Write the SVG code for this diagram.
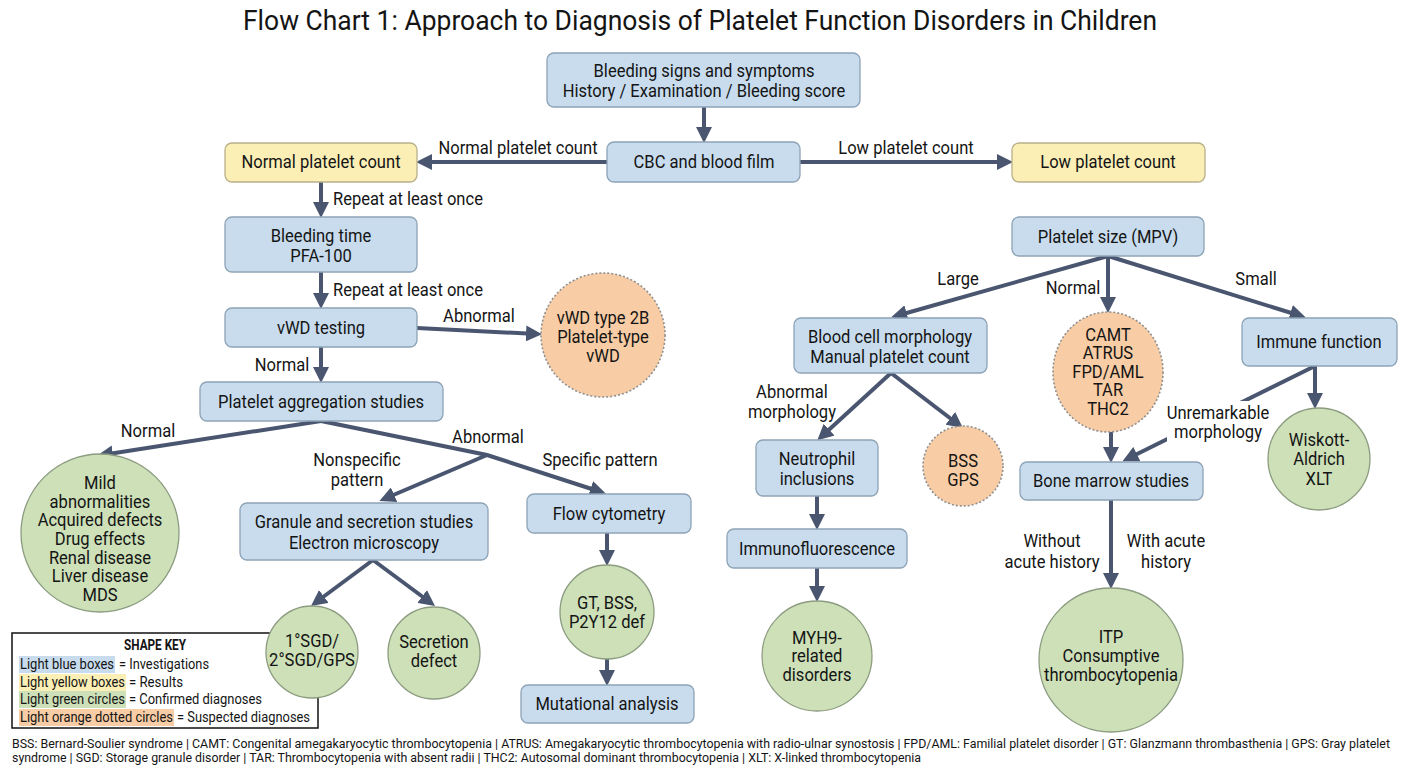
<svg xmlns="http://www.w3.org/2000/svg" width="1408" height="768" viewBox="0 0 1408 768">
<style>
.t{font-family:Roboto,"Liberation Sans",sans-serif;font-size:18px;fill:#141414;text-anchor:middle}
.ts{font-family:Roboto,"Liberation Sans",sans-serif;font-size:18px;fill:#141414;text-anchor:start}
.k{font-family:Roboto,"Liberation Sans",sans-serif;font-size:14px;fill:#141414}
.f{font-family:Roboto,"Liberation Sans",sans-serif;font-size:12.5px;fill:#141414}
.blue{fill:#c8dcee;stroke:#8da3b6;stroke-width:1.3}
.yel{fill:#fbefb6;stroke:#b9b08a;stroke-width:1.3}
.grn{fill:#cde0b8;stroke:#8c9c80;stroke-width:1.3}
.org{fill:#f8cda5;stroke:#8f8f8f;stroke-width:1.6;stroke-dasharray:2 2}
.c path{fill:none;stroke:#4a5670;stroke-width:4;marker-end:url(#ah)}
</style>
<defs>
<marker id="ah" markerUnits="userSpaceOnUse" markerWidth="16" markerHeight="16" refX="11" refY="8" orient="auto">
<path d="M0,0 L16,8 L0,16 z" fill="#4a5670"/>
</marker>
</defs>
<rect width="1408" height="768" fill="#ffffff"/>
<text x="700" y="30" text-anchor="middle" textLength="914" lengthAdjust="spacingAndGlyphs" style="font-family:Roboto,'Liberation Sans',sans-serif;font-size:28px;fill:#141414">Flow Chart 1: Approach to Diagnosis of Platelet Function Disorders in Children</text>

<g id="key">
<rect x="12" y="633" width="306" height="95" fill="#fff" stroke="#111" stroke-width="1.5"/>
<text x="155" y="650" text-anchor="middle" textLength="62" lengthAdjust="spacingAndGlyphs" style="font-family:Roboto,'Liberation Sans',sans-serif;font-size:14px;font-weight:bold;fill:#141414">SHAPE KEY</text>
<rect x="19" y="656" width="96" height="17" fill="#c8dcee"/>
<rect x="19" y="674" width="107" height="17" fill="#fbefb6"/>
<rect x="19" y="691" width="107" height="17" fill="#cde0b8"/>
<rect x="19" y="709" width="155" height="17" fill="#f8cda5"/>
<text class="k" x="20" y="669" textLength="94" lengthAdjust="spacingAndGlyphs">Light blue boxes</text>
<text class="k" x="119" y="669" textLength="90" lengthAdjust="spacingAndGlyphs">= Investigations</text>
<text class="k" x="20" y="687" textLength="105" lengthAdjust="spacingAndGlyphs">Light yellow boxes</text>
<text class="k" x="129" y="687" textLength="54" lengthAdjust="spacingAndGlyphs">= Results</text>
<text class="k" x="20" y="704" textLength="105" lengthAdjust="spacingAndGlyphs">Light green circles</text>
<text class="k" x="129" y="704" textLength="133" lengthAdjust="spacingAndGlyphs">= Confirmed diagnoses</text>
<text class="k" x="20" y="722" textLength="153" lengthAdjust="spacingAndGlyphs">Light orange dotted circles</text>
<text class="k" x="177" y="722" textLength="133" lengthAdjust="spacingAndGlyphs">= Suspected diagnoses</text>
</g>

<g class="c" id="connectors">
<path d="M704,107 V138"/>
<path d="M607,162 H421"/>
<path d="M800,162 H1008"/>
<path d="M321,182 V213"/>
<path d="M321,272 V304"/>
<path d="M417,328 L537,334"/>
<path d="M321,347 V378"/>
<path d="M321,421 L102,455"/>
<path d="M321,421 L487,455 L601,492"/>
<path d="M487,455 L384,499"/>
<path d="M373,560 L315,603"/>
<path d="M373,560 L431,603"/>
<path d="M607,533 V561"/>
<path d="M607,659 V681"/>
<path d="M1108,256 L896,316"/>
<path d="M1108,256 V308"/>
<path d="M1108,256 L1301,316"/>
<path d="M891,373 L821,437"/>
<path d="M891,373 L959,425"/>
<path d="M817,496 V525"/>
<path d="M817,568 V597"/>
<path d="M1111,432 V458"/>
<path d="M1315,366 V404"/>
<path d="M1315,366 L1127,459"/>
<path d="M1111,500 V584"/>
</g>

<g id="labels">
<text class="t" transform="translate(518,154) scale(.92 1)">Normal platelet count</text>
<text class="t" transform="translate(906,154) scale(.92 1)">Low platelet count</text>
<text class="ts" transform="translate(333,205) scale(.92 1)">Repeat at least once</text>
<text class="ts" transform="translate(333,296) scale(.92 1)">Repeat at least once</text>
<text class="t" transform="translate(479,322) scale(.92 1)">Abnormal</text>
<text class="t" transform="translate(282,371) scale(.92 1)">Normal</text>
<text class="t" transform="translate(148,437) scale(.92 1)">Normal</text>
<text class="t" transform="translate(488,443) scale(.92 1)">Abnormal</text>
<text class="t" transform="translate(357,466) scale(.92 1)">Nonspecific<tspan x="0" dy="20">pattern</tspan></text>
<text class="t" transform="translate(600,466) scale(.92 1)">Specific pattern</text>
<text class="t" transform="translate(958,285) scale(.92 1)">Large</text>
<text class="t" transform="translate(1073,294) scale(.92 1)">Normal</text>
<text class="t" transform="translate(1256,285) scale(.92 1)">Small</text>
<text class="t" transform="translate(792,398) scale(.92 1)">Abnormal<tspan x="0" dy="20">morphology</tspan></text>
<rect x="1167" y="401" width="103" height="41" fill="#ffffff"/>
<text class="t" transform="translate(1218,419) scale(.92 1)">Unremarkable<tspan x="0" dy="19">morphology</tspan></text>
<text class="t" transform="translate(1052,547) scale(.92 1)">Without<tspan x="0" dy="21">acute history</tspan></text>
<text class="t" transform="translate(1166,547) scale(.92 1)">With acute<tspan x="0" dy="21">history</tspan></text>
</g>

<g id="n1"><rect class="blue" x="547" y="53" width="313" height="54" rx="7"/><text class="t" transform="translate(704,77) scale(.92 1)">Bleeding signs and symptoms<tspan x="0" dy="20">History / Examination / Bleeding score</tspan></text></g>
<g id="n2"><rect class="blue" x="607" y="142" width="193" height="40" rx="7"/><text class="t" transform="translate(704,168) scale(.92 1)">CBC and blood film</text></g>
<g id="n3"><rect class="yel" x="225" y="143" width="192" height="39" rx="7"/><text class="t" transform="translate(321,168) scale(.92 1)">Normal platelet count</text></g>
<g id="n4"><rect class="yel" x="1012" y="143" width="193" height="39" rx="7"/><text class="t" transform="translate(1108,168) scale(.92 1)">Low platelet count</text></g>
<g id="n5"><rect class="blue" x="225" y="217" width="192" height="55" rx="7"/><text class="t" transform="translate(321,242) scale(.92 1)">Bleeding time<tspan x="0" dy="20">PFA-100</tspan></text></g>
<g id="n6"><rect class="blue" x="225" y="308" width="192" height="39" rx="7"/><text class="t" transform="translate(321,334) scale(.92 1)">vWD testing</text></g>
<g id="n7"><circle class="org" cx="603" cy="335" r="62"/><text class="t" transform="translate(603,324) scale(.92 1)">vWD type 2B<tspan x="0" dy="19">Platelet-type</tspan><tspan x="0" dy="19">vWD</tspan></text></g>
<g id="n8"><rect class="blue" x="200" y="382" width="243" height="39" rx="7"/><text class="t" transform="translate(321,408) scale(.92 1)">Platelet aggregation studies</text></g>
<g id="n9"><circle class="grn" cx="100" cy="533" r="79"/><text class="t" transform="translate(100,489) scale(.92 1)">Mild<tspan x="0" dy="18.7">abnormalities</tspan><tspan x="0" dy="18.7">Acquired defects</tspan><tspan x="0" dy="18.7">Drug effects</tspan><tspan x="0" dy="18.7">Renal disease</tspan><tspan x="0" dy="18.7">Liver disease</tspan><tspan x="0" dy="18.7">MDS</tspan></text></g>
<g id="n10"><rect class="blue" x="240" y="503" width="248" height="57" rx="7"/><text class="t" transform="translate(364,528) scale(.92 1)">Granule and secretion studies<tspan x="0" dy="21">Electron microscopy</tspan></text></g>
<g id="n11"><circle class="grn" cx="312" cy="652" r="46"/><text class="t" transform="translate(312,647) scale(.92 1)">1°SGD/<tspan x="0" dy="19">2°SGD/GPS</tspan></text></g>
<g id="n12"><circle class="grn" cx="434" cy="653" r="46"/><text class="t" transform="translate(434,648) scale(.92 1)">Secretion<tspan x="0" dy="19">defect</tspan></text></g>
<g id="n13"><rect class="blue" x="527" y="494" width="164" height="39" rx="7"/><text class="t" transform="translate(609,520) scale(.92 1)">Flow cytometry</text></g>
<g id="n14"><circle class="grn" cx="607" cy="612" r="47"/><text class="t" transform="translate(607,609) scale(.92 1)">GT, BSS,<tspan x="0" dy="19">P2Y12 def</tspan></text></g>
<g id="n15"><rect class="blue" x="521" y="685" width="173" height="38" rx="7"/><text class="t" transform="translate(607,710) scale(.92 1)">Mutational analysis</text></g>
<g id="n17"><rect class="blue" x="1012" y="217" width="192" height="39" rx="7"/><text class="t" transform="translate(1108,243) scale(.92 1)">Platelet size (MPV)</text></g>
<g id="n18"><rect class="blue" x="794" y="318" width="193" height="55" rx="7"/><text class="t" transform="translate(890,343) scale(.92 1)">Blood cell morphology<tspan x="0" dy="20">Manual platelet count</tspan></text></g>
<g id="n19"><ellipse class="org" cx="1108" cy="372" rx="55" ry="60"/><text class="t" transform="translate(1108,341) scale(.92 1)">CAMT<tspan x="0" dy="18.5">ATRUS</tspan><tspan x="0" dy="18.5">FPD/AML</tspan><tspan x="0" dy="18.5">TAR</tspan><tspan x="0" dy="18.5">THC2</tspan></text></g>
<g id="n20"><rect class="blue" x="1242" y="318" width="155" height="48" rx="7"/><text class="t" transform="translate(1319,348) scale(.92 1)">Immune function</text></g>
<g id="n21"><rect class="blue" x="756" y="440" width="122" height="56" rx="7"/><text class="t" transform="translate(817,465) scale(.92 1)">Neutrophil<tspan x="0" dy="20">inclusions</tspan></text></g>
<g id="n22"><circle class="org" cx="963" cy="466" r="40"/><text class="t" transform="translate(963,467) scale(.92 1)">BSS<tspan x="0" dy="19">GPS</tspan></text></g>
<g id="n23"><rect class="blue" x="1020" y="462" width="183" height="38" rx="7"/><text class="t" transform="translate(1111,487) scale(.92 1)">Bone marrow studies</text></g>
<g id="n24"><circle class="grn" cx="1319" cy="459" r="51"/><text class="t" transform="translate(1319,446) scale(.92 1)">Wiskott-<tspan x="0" dy="19.5">Aldrich</tspan><tspan x="0" dy="19.5">XLT</tspan></text></g>
<g id="n25"><rect class="blue" x="727" y="529" width="180" height="39" rx="7"/><text class="t" transform="translate(817,555) scale(.92 1)">Immunofluorescence</text></g>
<g id="n26"><circle class="grn" cx="817" cy="656" r="55"/><text class="t" transform="translate(817,644) scale(.92 1)">MYH9-<tspan x="0" dy="18.5">related</tspan><tspan x="0" dy="18.5">disorders</tspan></text></g>
<g id="n27"><circle class="grn" cx="1111" cy="660" r="72"/><text class="t" transform="translate(1111,643) scale(.92 1)">ITP<tspan x="0" dy="19">Consumptive</tspan><tspan x="0" dy="19">thrombocytopenia</tspan></text></g>

<g id="footer">
<text class="f" x="12" y="748" textLength="1378" lengthAdjust="spacingAndGlyphs">BSS: Bernard-Soulier syndrome | CAMT: Congenital amegakaryocytic thrombocytopenia | ATRUS: Amegakaryocytic thrombocytopenia with radio-ulnar synostosis | FPD/AML: Familial platelet disorder | GT: Glanzmann thrombasthenia | GPS: Gray platelet</text>
<text class="f" x="12" y="762" textLength="909" lengthAdjust="spacingAndGlyphs">syndrome | SGD: Storage granule disorder | TAR: Thrombocytopenia with absent radii | THC2: Autosomal dominant thrombocytopenia | XLT: X-linked thrombocytopenia</text>
</g>
</svg>
